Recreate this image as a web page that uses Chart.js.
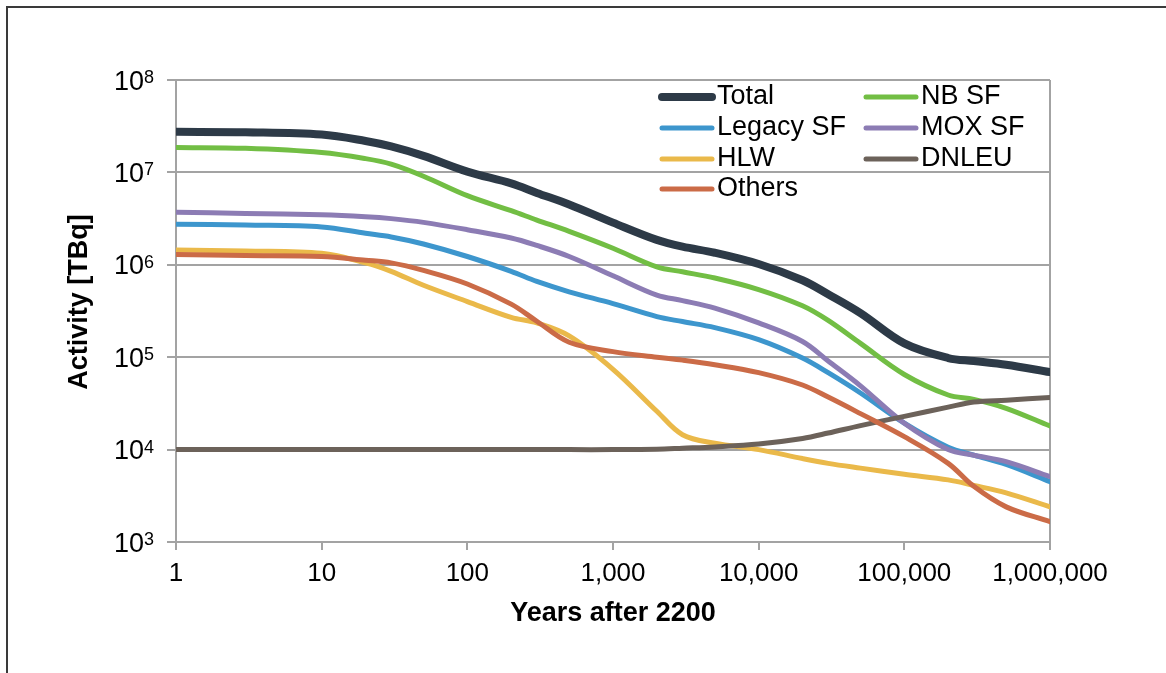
<!DOCTYPE html>
<html>
<head>
<meta charset="utf-8">
<script src="https://cdn.jsdelivr.net/npm/chart.js@4.4.1/dist/chart.umd.min.js"></script>
<style>
  html, body { margin: 0; padding: 0; background: #fff; }
  canvas { display: block; }
</style>
</head>
<body>
<canvas id="chart" width="1166" height="673"></canvas>
<script>
// Years after 2200 (sample points)
const years = [1, 3, 10, 20, 30, 50, 100, 200, 300, 500, 1000, 2000, 3000, 5000,
  10000, 20000, 30000, 50000, 100000, 200000, 300000, 500000, 1000000];

// Activity [TBq]
const total    = [2.75e7, 2.72e7, 2.57e7, 2.19e7, 1.91e7, 1.51e7, 1.02e7, 7.6e6, 6.0e6, 4.5e6, 2.86e6, 1.86e6, 1.57e6, 1.35e6,
  1.02e6, 6.8e5, 4.8e5, 3.0e5, 1.41e5, 9.8e4, 9.1e4, 8.3e4, 6.9e4];
const nbSF     = [1.86e7, 1.82e7, 1.64e7, 1.41e7, 1.23e7, 9.1e6, 5.6e6, 3.85e6, 3.05e6, 2.3e6, 1.51e6, 9.5e5, 8.4e5, 7.2e5,
  5.4e5, 3.6e5, 2.5e5, 1.41e5, 6.5e4, 3.9e4, 3.5e4, 2.8e4, 1.8e4];
const legacySF = [2.75e6, 2.69e6, 2.57e6, 2.19e6, 2.0e6, 1.68e6, 1.23e6, 8.5e5, 6.6e5, 5.1e5, 3.8e5, 2.75e5, 2.43e5, 2.09e5,
  1.55e5, 9.8e4, 6.8e4, 4.1e4, 1.93e4, 1.06e4, 8.7e3, 6.9e3, 4.5e3];
const moxSF    = [3.7e6, 3.6e6, 3.47e6, 3.31e6, 3.16e6, 2.88e6, 2.4e6, 1.95e6, 1.62e6, 1.23e6, 7.6e5, 4.7e5, 4.1e5, 3.4e5,
  2.35e5, 1.48e5, 9.1e4, 4.9e4, 1.93e4, 1.0e4, 8.7e3, 7.4e3, 5.1e3];
const hlw      = [1.45e6, 1.41e6, 1.33e6, 1.05e6, 8.5e5, 6.0e5, 4.0e5, 2.7e5, 2.35e5, 1.7e5, 7.4e4, 2.6e4, 1.45e4, 1.17e4,
  1.0e4, 8.0e3, 7.1e3, 6.3e3, 5.4e3, 4.7e3, 4.1e3, 3.4e3, 2.4e3];
const dnleu    = [1.0e4, 1.0e4, 1.0e4, 1.0e4, 1.0e4, 1.0e4, 1.0e4, 1.0e4, 1.0e4, 1.0e4, 1.0e4, 1.01e4, 1.035e4, 1.07e4,
  1.15e4, 1.32e4, 1.51e4, 1.82e4, 2.29e4, 2.88e4, 3.27e4, 3.43e4, 3.67e4];
const others   = [1.29e6, 1.26e6, 1.23e6, 1.12e6, 1.05e6, 8.7e5, 6.2e5, 3.75e5, 2.45e5, 1.45e5, 1.15e5, 1.0e5, 9.3e4, 8.3e4,
  6.8e4, 5.0e4, 3.7e4, 2.45e4, 1.38e4, 7.1e3, 4.0e3, 2.4e3, 1.66e3];

const xTicks = [1, 10, 100, 1000, 10000, 100000, 1000000];
const yTicks = [1e3, 1e4, 1e5, 1e6, 1e7, 1e8];

const FONT = '"Liberation Sans", Arial, Helvetica, sans-serif';
const GRID = '#a3a3a3';

// legend order (Excel style, two columns)
const series = [
  { label: 'Total',     data: total,    color: '#2d3a47', width: 8 },
  { label: 'NB SF',     data: nbSF,     color: '#72be44', width: 5 },
  { label: 'Legacy SF', data: legacySF, color: '#3d96cd', width: 5 },
  { label: 'MOX SF',    data: moxSF,    color: '#8c7cb4', width: 5 },
  { label: 'HLW',       data: hlw,      color: '#eab94a', width: 5 },
  { label: 'DNLEU',     data: dnleu,    color: '#6c625a', width: 5 },
  { label: 'Others',    data: others,   color: '#cb6b47', width: 5 }
];

// later legend entries are painted on top, as Excel does
const datasets = series.slice().reverse().map(s => ({
  label: s.label,
  data: years.map((x, i) => ({ x, y: s.data[i] })),
  borderColor: s.color,
  backgroundColor: s.color,
  borderWidth: s.width,
  pointRadius: 0,
  tension: 0.35,
  borderCapStyle: 'round',
  borderJoinStyle: 'round'
}));

const decor = {
  id: 'decor',
  beforeDraw(chart) {
    const ctx = chart.ctx;
    ctx.save();
    ctx.strokeStyle = '#3a3a3a';
    ctx.lineWidth = 2;
    ctx.beginPath();
    ctx.moveTo(7, 673);
    ctx.lineTo(7, 7);
    ctx.lineTo(1166, 7);
    ctx.stroke();
    ctx.restore();
  },
  beforeDatasetsDraw(chart) {
    const { ctx, chartArea: a } = chart;
    ctx.save();
    ctx.strokeStyle = GRID;
    ctx.lineWidth = 2;
    ctx.beginPath();
    ctx.moveTo(a.right, a.top);
    ctx.lineTo(a.right, a.bottom + 8);
    ctx.stroke();
    ctx.restore();
  },
  afterDraw(chart) {
    const { ctx, chartArea: a } = chart;
    const ys = chart.scales.y;
    ctx.save();
    ctx.fillStyle = '#000';

    // y tick labels as 10^n
    yTicks.forEach(v => {
      const py = ys.getPixelForValue(v);
      const exp = String(Math.round(Math.log10(v)));
      ctx.font = '18px ' + FONT;
      const ew = ctx.measureText(exp).width;
      const right = 154;
      ctx.textAlign = 'left';
      ctx.textBaseline = 'alphabetic';
      ctx.fillText(exp, right - ew, py + 3);
      ctx.font = '27px ' + FONT;
      ctx.textAlign = 'right';
      ctx.fillText('10', right - ew, py + 9.5);
    });

    // axis titles
    ctx.font = 'bold 27px ' + FONT;
    ctx.textAlign = 'center';
    ctx.textBaseline = 'alphabetic';
    ctx.fillText('Years after 2200', (a.left + a.right) / 2, 621);
    ctx.save();
    ctx.translate(87, 302);
    ctx.rotate(-Math.PI / 2);
    ctx.fillText('Activity [TBq]', 0, 0);
    ctx.restore();

    // legend
    const colX = [662, 866];
    const rowY = [97, 128, 159, 189];
    ctx.font = '27px ' + FONT;
    ctx.textAlign = 'left';
    ctx.textBaseline = 'middle';
    series.forEach((s, i) => {
      const lx = colX[i % 2];
      const ly = rowY[Math.floor(i / 2)];
      ctx.strokeStyle = s.color;
      ctx.lineWidth = s.width;
      ctx.lineCap = 'round';
      ctx.beginPath();
      ctx.moveTo(lx, ly);
      ctx.lineTo(lx + 50, ly);
      ctx.stroke();
      ctx.fillText(s.label, lx + 55, ly);
    });
    ctx.restore();
  }
};

new Chart(document.getElementById('chart'), {
  type: 'line',
  data: { datasets },
  options: {
    responsive: false,
    animation: false,
    events: [],
    layout: { padding: { left: 0, top: 80, right: 116, bottom: 0 } },
    plugins: { legend: { display: false }, tooltip: { enabled: false } },
    scales: {
      x: {
        type: 'logarithmic',
        min: 1,
        max: 1000000,
        afterBuildTicks: scale => { scale.ticks = xTicks.map(value => ({ value })); },
        afterFit: scale => { scale.height = 131; },
        border: { display: true, color: GRID, width: 2 },
        grid: { drawOnChartArea: false, drawTicks: true, tickLength: 8, color: GRID, lineWidth: 2 },
        ticks: {
          autoSkip: false,
          maxRotation: 0,
          padding: 8,
          color: '#000',
          font: { family: FONT, size: 26 },
          callback: v => Number(v).toLocaleString('en-US')
        }
      },
      y: {
        type: 'logarithmic',
        min: 1e3,
        max: 1e8,
        afterBuildTicks: scale => { scale.ticks = yTicks.map(value => ({ value })); },
        afterFit: scale => { scale.width = 176; },
        border: { display: true, color: GRID, width: 2 },
        grid: { drawOnChartArea: true, drawTicks: true, tickLength: 9, color: GRID, lineWidth: 2 },
        ticks: { callback: () => '' }
      }
    }
  },
  plugins: [decor]
});
</script>
</body>
</html>
